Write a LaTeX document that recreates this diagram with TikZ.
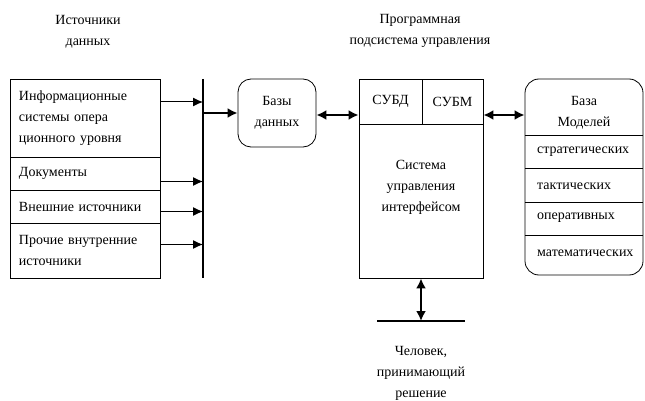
\documentclass[tikz,border=0pt]{standalone}
\usepackage{fontspec}
\setmainfont{Liberation Serif}
\usetikzlibrary{arrows.meta,calc}
\begin{document}
\begin{tikzpicture}[x=1pt,y=-1pt,
  every node/.style={font=\fontsize{14}{21}\selectfont},
  srcbox/.style={draw, line width=0.8pt, inner xsep=9pt, inner ysep=0pt, text width=132pt, align=left, minimum height=#1},
  plainbox/.style={draw, line width=0.8pt, inner sep=0pt, minimum width=#1},
  lbl/.style={inner sep=0pt, align=center},
  arr/.style={line width=1pt, -{Latex[length=10pt,width=9pt]}},
  darr/.style={line width=2pt, {Latex[length=10pt,width=10pt]}-{Latex[length=10pt,width=10pt]}},
  thickbar/.style={line width=2.6pt}]
\useasboundingbox (0,0) rectangle (645,401);
% titles
\node[lbl] (t1) at (88,32) {Источники\\данных};
\node[lbl] (t2) at (420,31) {Программная\\подсистема управления};
% source boxes
\node[srcbox=78pt] (src1) at (85,118) {Информационные\\системы опера\\ционного уровня};
\node[srcbox=33pt] (src2) at (85,173.5) {Документы};
\node[srcbox=33pt] (src3) at (85,206.5) {Внешние источники};
\node[srcbox=55pt] (src4) at (85,250.5) {Прочие внутренние\\источники};
% bus bar
\coordinate (bustop) at (203,79);
\coordinate (busbot) at (203,278);
\draw[thickbar] (bustop) -- (busbot);
\coordinate (a1) at ($(src1.east)+(0,-16)$);
\coordinate (a2) at ($(src2.east)+(0,8)$);
\coordinate (a3) at ($(src3.east)+(0,5)$);
\coordinate (a4) at ($(src4.east)+(0,-6)$);
\foreach \a in {a1,a2,a3,a4} \draw[arr] (\a) -- (\a -| bustop);
% databases
\node[draw, line width=0.8pt, rounded corners=13pt, minimum width=78pt, minimum height=68pt, lbl] (db) at (277,113) {Базы\\данных};
\draw[line width=2pt, -{Latex[length=10pt,width=10pt]}] (db.west -| bustop) -- (db.west);
% central box
\node[plainbox=124pt, minimum height=199pt] (cs) at (421,178.5) {};
\node[plainbox=63pt, minimum height=45pt] (subd) at (390.5,101.5) {СУБД};
\node[plainbox=61pt, minimum height=45pt] (subm) at (452.5,101.5) {СУБМ};
\node[lbl] (sui) at (421,187) {Система\\управления\\интерфейсом};
\coordinate (d1) at ($(db.east)+(0,2)$);
\draw[darr] (d1) -- (d1 -| cs.west);
% model base
\node[draw, line width=0.8pt, rounded corners=14pt, minimum width=118pt, minimum height=196pt, inner sep=0pt] (mb) at (584,177) {};
\node[lbl] (mbt) at (584,113) {База\\Моделей};
\draw[line width=0.8pt] (525,135) -- (643,135) (525,168) -- (643,168) (525,202) -- (643,202) (525,235) -- (643,235);
\node[anchor=west, inner sep=0pt] (m1) at (537,152) {стратегических};
\node[anchor=west, inner sep=0pt] (m2) at (537,186) {тактических};
\node[anchor=west, inner sep=0pt] (m3) at (537,218) {оперативных};
\node[anchor=west, inner sep=0pt] (m4) at (537,253) {математических};
\coordinate (d2) at (cs.east |- d1);
\draw[darr] (d2) -- (d2 -| mb.west);
% human
\coordinate (hl) at (421,321);
\draw[thickbar] (377,321) -- (465,321);
\draw[darr] (cs.south) -- (hl);
\node[lbl] (hum) at (421,373) {Человек,\\принимающий\\решение};
\end{tikzpicture}
\end{document}
